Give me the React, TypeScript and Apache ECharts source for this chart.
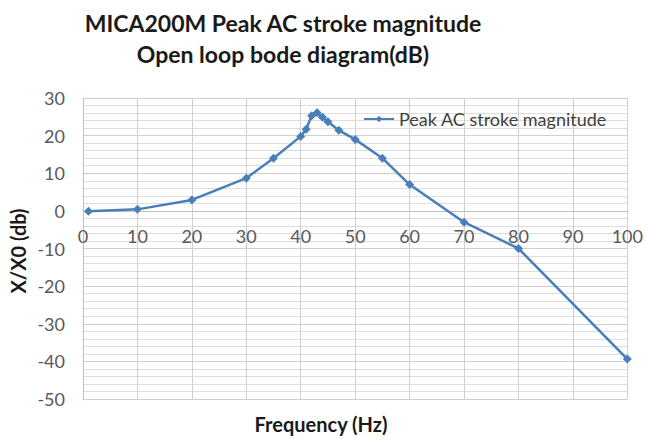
import React, { useEffect, useRef } from "react";
import * as echarts from "echarts";

const frequency = [1, 10, 20, 30, 35, 40, 41, 42, 43, 44, 45, 47, 50, 55, 60, 70, 80, 100];
const magnitude = [-0.1, 0.4, 2.9, 8.7, 14, 19.8, 21.7, 25.3, 26.1, 24.9, 23.7, 21.4, 19, 14, 7, -3, -10, -39.4];
const seriesName = "Peak AC stroke magnitude";
const titleLines = ["MICA200M Peak AC stroke magnitude", "Open loop bode diagram(dB)"];
const xName = "Frequency (Hz)";
const yName = "X/X0 (db)";

export default function App() {
  const ref = useRef<HTMLDivElement>(null);
  useEffect(() => {
    if (!ref.current) return;
    const chart = echarts.init(ref.current, undefined, { renderer: "svg" });
    const font = "Lato, 'Open Sans', sans-serif";
    const gridTop = 98;
    const gridBottom = 42;
    const plotH = 441 - gridTop - gridBottom;
    const yMin = -50;
    const yMax = 30;
    // place the x axis where y = 0 (axis crossing), measured from the grid bottom
    const zeroOffset = -plotH * (0 - yMin) / (yMax - yMin);
    chart.setOption({
      animation: false,
      backgroundColor: "#ffffff",
      legend: {
        data: [seriesName],
        left: 358,
        top: 105,
        itemWidth: 30,
        itemHeight: 8,
        itemGap: 2,
        textStyle: { fontFamily: font, fontSize: 18, color: "#404040" },
      },
      grid: { left: 83, right: 18, top: gridTop, bottom: gridBottom, containLabel: false },
      xAxis: [
        {
          type: "value",
          min: 0,
          max: 100,
          interval: 10,
          offset: zeroOffset,
          axisLine: { show: true, onZero: false, lineStyle: { color: "#bfbfbf" } },
          axisTick: { show: false },
          axisLabel: { fontFamily: font, fontSize: 18, color: "#595959", margin: 16 },
          splitLine: { show: true, lineStyle: { color: "#cfcfcf", width: 1 } },
        },
      ],
      yAxis: {
        type: "value",
        min: yMin,
        max: yMax,
        interval: 10,
        axisLine: { show: true, onZero: false, lineStyle: { color: "#bfbfbf" } },
        axisTick: { show: false },
        axisLabel: { fontFamily: font, fontSize: 18, color: "#595959", margin: 18 },
        splitLine: { show: true, lineStyle: { color: "#cfcfcf", width: 1 } },
        minorTick: { show: false, splitNumber: 5 },
        minorSplitLine: { show: true, lineStyle: { color: "#dedede", width: 1 } },
      },
      graphic: [
        {
          type: "text",
          x: 283,
          y: 23,
          style: {
            text: titleLines[0],
            fontFamily: font,
            fontSize: 23,
            fontWeight: "bold",
            fill: "#1a1a1a",
            align: "center",
            verticalAlign: "middle",
          },
        },
        {
          type: "text",
          x: 283,
          y: 54,
          style: {
            text: titleLines[1],
            fontFamily: font,
            fontSize: 23,
            fontWeight: "bold",
            fill: "#1a1a1a",
            align: "center",
            verticalAlign: "middle",
          },
        },
        {
          type: "text",
          x: 321,
          y: 424,
          style: {
            text: xName,
            fontFamily: font,
            fontSize: 20,
            fontWeight: "bold",
            fill: "#1a1a1a",
            align: "center",
            verticalAlign: "middle",
          },
        },
        {
          type: "text",
          x: 18,
          y: 251,
          rotation: Math.PI / 2,
          style: {
            text: yName,
            fontFamily: font,
            fontSize: 20,
            fontWeight: "bold",
            fill: "#1a1a1a",
            align: "center",
            verticalAlign: "middle",
          },
        },
      ],
      series: [
        {
          name: seriesName,
          type: "line",
          data: frequency.map((f, i) => [f, magnitude[i]]),
          symbol: "diamond",
          symbolSize: 9,
          itemStyle: { color: "#4a7ebb" },
          lineStyle: { color: "#4a7ebb", width: 2.5 },
        },
      ],
    });
    return () => chart.dispose();
  }, []);
  return <div ref={ref} style={{ width: 646, height: 441, position: "absolute", left: 0, top: 0 }} />;
}
